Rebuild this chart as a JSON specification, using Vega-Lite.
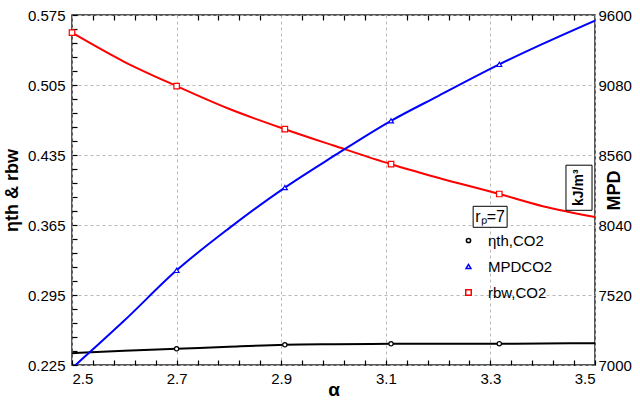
{
  "$schema": "https://vega.github.io/schema/vega-lite/v6.json",
  "width": 523,
  "height": 350,
  "autosize": "none",
  "padding": {"left": 72, "top": 15, "right": 45, "bottom": 37},
  "background": "white",
  "config": {
    "font": "Liberation Sans",
    "view": {"stroke": "#222222", "strokeWidth": 1.5},
    "axis": {
      "domain": false,
      "labelFont": "Liberation Sans",
      "labelFontSize": 15,
      "labelColor": "black",
      "labelOverlap": false,
      "titleFont": "Liberation Sans",
      "titleColor": "black",
      "titleFontWeight": "bold",
      "tickColor": "#000000",
      "tickWidth": 1.2,
      "tickSize": -5,
      "zindex": 1,
      "gridColor": "#b8b8b8",
      "gridDash": [3, 3],
      "gridWidth": 1
    }
  },
  "data": {
    "values": [
      {"a": 2.5, "s": "eta", "v": 0.2368, "m": 0},
      {"a": 2.6, "s": "eta", "v": 0.2392, "m": 0},
      {"a": 2.7, "s": "eta", "v": 0.2412, "m": 1},
      {"a": 2.8, "s": "eta", "v": 0.2433, "m": 0},
      {"a": 2.907, "s": "eta", "v": 0.2452, "m": 1},
      {"a": 3.0, "s": "eta", "v": 0.2458, "m": 0},
      {"a": 3.11, "s": "eta", "v": 0.2462, "m": 1},
      {"a": 3.2, "s": "eta", "v": 0.2463, "m": 0},
      {"a": 3.317, "s": "eta", "v": 0.2463, "m": 1},
      {"a": 3.4, "s": "eta", "v": 0.2465, "m": 0},
      {"a": 3.5, "s": "eta", "v": 0.2468, "m": 0},
      {"a": 2.5, "s": "mpd", "v": 6976, "m": 0},
      {"a": 2.6, "s": "mpd", "v": 7330, "m": 0},
      {"a": 2.7, "s": "mpd", "v": 7703, "m": 1},
      {"a": 2.8, "s": "mpd", "v": 8015, "m": 0},
      {"a": 2.907, "s": "mpd", "v": 8318, "m": 1},
      {"a": 3.0, "s": "mpd", "v": 8551, "m": 0},
      {"a": 3.11, "s": "mpd", "v": 8814, "m": 1},
      {"a": 3.2, "s": "mpd", "v": 8998, "m": 0},
      {"a": 3.317, "s": "mpd", "v": 9233, "m": 1},
      {"a": 3.4, "s": "mpd", "v": 9385, "m": 0},
      {"a": 3.5, "s": "mpd", "v": 9558, "m": 0},
      {"a": 2.5, "s": "rbw", "v": 0.5573, "m": 1},
      {"a": 2.6, "s": "rbw", "v": 0.5282, "m": 0},
      {"a": 2.7, "s": "rbw", "v": 0.5039, "m": 1},
      {"a": 2.8, "s": "rbw", "v": 0.4812, "m": 0},
      {"a": 2.907, "s": "rbw", "v": 0.4608, "m": 1},
      {"a": 3.0, "s": "rbw", "v": 0.4445, "m": 0},
      {"a": 3.11, "s": "rbw", "v": 0.4258, "m": 1},
      {"a": 3.2, "s": "rbw", "v": 0.4123, "m": 0},
      {"a": 3.317, "s": "rbw", "v": 0.3960, "m": 1},
      {"a": 3.4, "s": "rbw", "v": 0.3838, "m": 0},
      {"a": 3.5, "s": "rbw", "v": 0.3730, "m": 0}
    ]
  },
  "layer": [
    {
      "layer": [
        {
          "transform": [{"filter": "datum.s != 'mpd'"}],
          "mark": {"type": "line", "strokeWidth": 2, "interpolate": "monotone"},
          "encoding": {
            "x": {
              "field": "a",
              "type": "quantitative",
              "scale": {"domain": [2.5, 3.5], "nice": false, "zero": false},
              "axis": {
                "title": "α",
                "titleFontSize": 19,
                "titlePadding": -6,
                "labelPadding": 11,
                "labelOverlap": false,
                "tickCount": 100,
                "values": [2.5, 2.54, 2.58, 2.62, 2.66, 2.7, 2.74, 2.78, 2.82, 2.86, 2.9, 2.94, 2.98, 3.02, 3.06, 3.1, 3.14, 3.18, 3.22, 3.26, 3.3, 3.34, 3.38, 3.42, 3.46, 3.5],
                "labelExpr": "abs((datum.value - 2.5) / 0.2 - round((datum.value - 2.5) / 0.2)) < 0.01 ? format(datum.value, '.1f') : ''",
                "gridOpacity": {"condition": {"test": "abs((datum.value - 2.5) / 0.2 - round((datum.value - 2.5) / 0.2)) < 0.01", "value": 1}, "value": 0}
              }
            },
            "y": {
              "field": "v",
              "type": "quantitative",
              "scale": {"domain": [0.225, 0.575], "nice": false, "zero": false},
              "axis": {
                "title": "ηth & rbw",
                "titleFontSize": 18,
                "titlePadding": 6,
                "labelPadding": 12,
                "labelOverlap": false,
                "tickCount": 100,
                "values": [0.225, 0.239, 0.253, 0.267, 0.281, 0.295, 0.309, 0.323, 0.337, 0.351, 0.365, 0.379, 0.393, 0.407, 0.421, 0.435, 0.449, 0.463, 0.477, 0.491, 0.505, 0.519, 0.533, 0.547, 0.561, 0.575],
                "labelExpr": "abs((datum.value - 0.225) / 0.07 - round((datum.value - 0.225) / 0.07)) < 0.01 ? format(datum.value, '.3f') : ''",
                "gridOpacity": {"condition": {"test": "abs((datum.value - 0.225) / 0.07 - round((datum.value - 0.225) / 0.07)) < 0.01", "value": 1}, "value": 0}
              }
            },
            "color": {
              "field": "s",
              "type": "nominal",
              "scale": {"domain": ["eta", "mpd", "rbw"], "range": ["#000000", "#0000ff", "#ff0000"]},
              "legend": {
                "orient": "none",
                "legendX": 389,
                "legendY": 218,
                "title": null,
                "labelFontSize": 15,
                "labelOffset": 12,
                "rowPadding": 10,
                "symbolStrokeWidth": 1.5,
                "symbolFillColor": "white",
                "symbolSize": 45,
                "labelExpr": "datum.label == 'eta' ? 'ηth,CO2' : datum.label == 'mpd' ? 'MPDCO2' : 'rbw,CO2'"
              }
            }
          }
        },
        {
          "transform": [{"filter": "datum.s != 'mpd' && datum.m == 1"}],
          "mark": {"type": "point", "filled": false, "fill": "white", "strokeWidth": 1.2, "opacity": 1},
          "encoding": {
            "x": {"field": "a", "type": "quantitative"},
            "y": {"field": "v", "type": "quantitative"},
            "color": {"field": "s", "type": "nominal"},
            "shape": {
              "field": "s",
              "type": "nominal",
              "scale": {"domain": ["eta", "mpd", "rbw"], "range": ["circle", "triangle-up", "square"]},
              "legend": {
                "orient": "none",
                "legendX": 389,
                "legendY": 218,
                "title": null,
                "labelFontSize": 15,
                "labelOffset": 12,
                "rowPadding": 10,
                "symbolStrokeWidth": 1.5,
                "symbolFillColor": "white",
                "symbolSize": 45,
                "labelExpr": "datum.label == 'eta' ? 'ηth,CO2' : datum.label == 'mpd' ? 'MPDCO2' : 'rbw,CO2'"
              }
            },
            "size": {
              "field": "s",
              "type": "nominal",
              "scale": {"domain": ["eta", "mpd", "rbw"], "range": [18, 30, 42]},
              "legend": null
            }
          }
        },
        {
          "data": {"values": [{"k": 1}]},
          "mark": {"type": "rect", "fill": "white", "stroke": "black", "strokeWidth": 1},
          "encoding": {
            "x": {"datum": 3.267},
            "x2": {"datum": 3.332},
            "y": {"datum": 0.3837},
            "y2": {"datum": 0.3627}
          }
        },
        {
          "data": {"values": [{"k": 1}]},
          "mark": {"type": "text", "fontSize": 16, "color": "black", "align": "center", "baseline": "middle"},
          "encoding": {
            "x": {"datum": 3.2995},
            "y": {"datum": 0.3732},
            "text": {"value": "rₚ=7"}
          }
        },
        {
          "data": {"values": [{"k": 1}]},
          "mark": {"type": "rect", "fill": "white", "stroke": "black", "strokeWidth": 1},
          "encoding": {
            "x": {"datum": 3.4445},
            "x2": {"datum": 3.4943},
            "y": {"datum": 0.4248},
            "y2": {"datum": 0.3797}
          }
        },
        {
          "data": {"values": [{"k": 1}]},
          "mark": {"type": "text", "fontSize": 14, "fontWeight": "bold", "color": "black", "align": "center", "baseline": "middle", "angle": 270},
          "encoding": {
            "x": {"datum": 3.4694},
            "y": {"datum": 0.4023},
            "text": {"value": "kJ/m³"}
          }
        }
      ]
    },
    {
      "layer": [
        {
          "transform": [{"filter": "datum.s == 'mpd'"}],
          "mark": {"type": "line", "strokeWidth": 2, "interpolate": "monotone", "clip": true},
          "encoding": {
            "x": {
              "field": "a",
              "type": "quantitative",
              "axis": {
                "orient": "top",
                "title": null,
                "grid": false,
                "labels": false,
                "offset": -5,
                "tickSize": 5,
                "tickCount": 100,
                "values": [2.54, 2.58, 2.62, 2.66, 2.74, 2.78, 2.82, 2.86, 2.94, 2.98, 3.02, 3.06, 3.14, 3.18, 3.22, 3.26, 3.34, 3.38, 3.42, 3.46]
              }
            },
            "y": {
              "field": "v",
              "type": "quantitative",
              "scale": {"domain": [7000, 9600], "nice": false, "zero": false},
              "axis": {
                "orient": "right",
                "title": "MPD",
                "titleFontSize": 18,
                "titleAngle": 270,
                "titlePadding": -8,
                "labelPadding": 3,
                "ticks": false,
                "grid": false,
                "format": "d",
                "values": [7000, 7520, 8040, 8560, 9080, 9600]
              }
            },
            "color": {"field": "s", "type": "nominal"}
          }
        },
        {
          "transform": [{"filter": "datum.s == 'mpd' && datum.m == 1"}],
          "mark": {"type": "point", "filled": false, "fill": "white", "strokeWidth": 1.2, "opacity": 1},
          "encoding": {
            "x": {"field": "a", "type": "quantitative"},
            "y": {"field": "v", "type": "quantitative"},
            "color": {"field": "s", "type": "nominal"},
            "shape": {"field": "s", "type": "nominal"},
            "size": {"field": "s", "type": "nominal", "legend": null}
          }
        }
      ]
    }
  ],
  "resolve": {"scale": {"y": "independent"}, "axis": {"x": "independent"}}
}
